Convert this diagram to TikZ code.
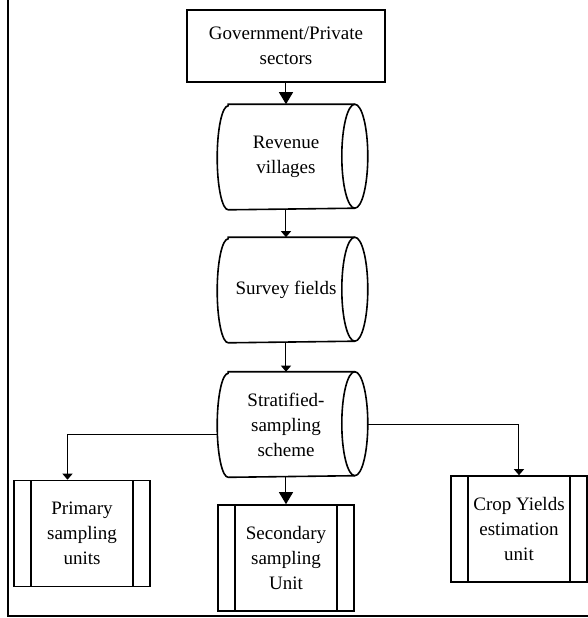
\documentclass[tikz,border=0pt]{standalone}
\usepackage{fontspec}
\setmainfont{Liberation Serif}
\usetikzlibrary{arrows.meta}
\begin{document}
\begin{tikzpicture}[x=0.5pt,y=-0.5pt,
        every node/.style={font=\fontsize{9.5}{12.5}\selectfont,align=center,line width=0.8pt},
        plainbox/.style={draw,minimum width=99pt,minimum height=36pt},
        storage/.style={minimum width=68pt,minimum height=52pt,
            append after command={\pgfextra{
                \draw[line width=0.8pt] ([xshift=5.5pt]\tikzlastnode.north west) -- (\tikzlastnode.north east)
                    arc[start angle=90,end angle=-90,x radius=6.5pt,y radius=26pt] -- ([xshift=5.5pt]\tikzlastnode.south west)
                    arc[start angle=-90,end angle=-270,x radius=5.5pt,y radius=26pt] -- cycle;
                \draw[line width=0.8pt] (\tikzlastnode.north east) arc[start angle=90,end angle=270,x radius=6.5pt,y radius=26pt];}}},
        procbox/.style={draw,minimum width=68pt,minimum height=53pt,
            path picture={\draw ([xshift=8.5pt]path picture bounding box.north west) -- ([xshift=8.5pt]path picture bounding box.south west)
                ([xshift=-8.5pt]path picture bounding box.north east) -- ([xshift=-8.5pt]path picture bounding box.south east);}},
        bigarr/.style={-{Triangle[length=6pt,width=7pt]},line width=0.5pt},
        smallarr/.style={-{Triangle[length=3pt,width=5pt]},line width=0.5pt}]
            \useasboundingbox (0,0) rectangle (588,618);
            \draw[line width=0.6pt] (8,0) -- (8,616) -- (588,616);
            \node[plainbox] (gov) at (286,46) {Government/Private\\sectors};
            \node[storage] (rev) at (286,157) {Revenue\\villages};
            \node[storage] (survey) at (286,290) {Survey fields};
            \node[storage] (strat) at (286,424.5) {Stratified-\\sampling\\scheme};
            \node[procbox] (prim) at (82,533.5) {Primary\\sampling\\units};
            \node[procbox] (sec) at (286,558) {Secondary\\sampling\\Unit};
            \node[procbox] (crop) at (519,529) {Crop Yields\\estimation\\unit};
            \draw[bigarr] (gov) -- (rev);
            \draw[smallarr] (rev) -- (survey);
            \draw[smallarr] (survey) -- (strat);
            \draw[bigarr] (strat) -- (sec);
            \draw[smallarr] ([yshift=-5pt]strat.west) -| ([xshift=-7.25pt]prim.north);
            \draw[smallarr] ([xshift=6.5pt]strat.east) -| (crop.north);
        \end{tikzpicture}
\end{document}
